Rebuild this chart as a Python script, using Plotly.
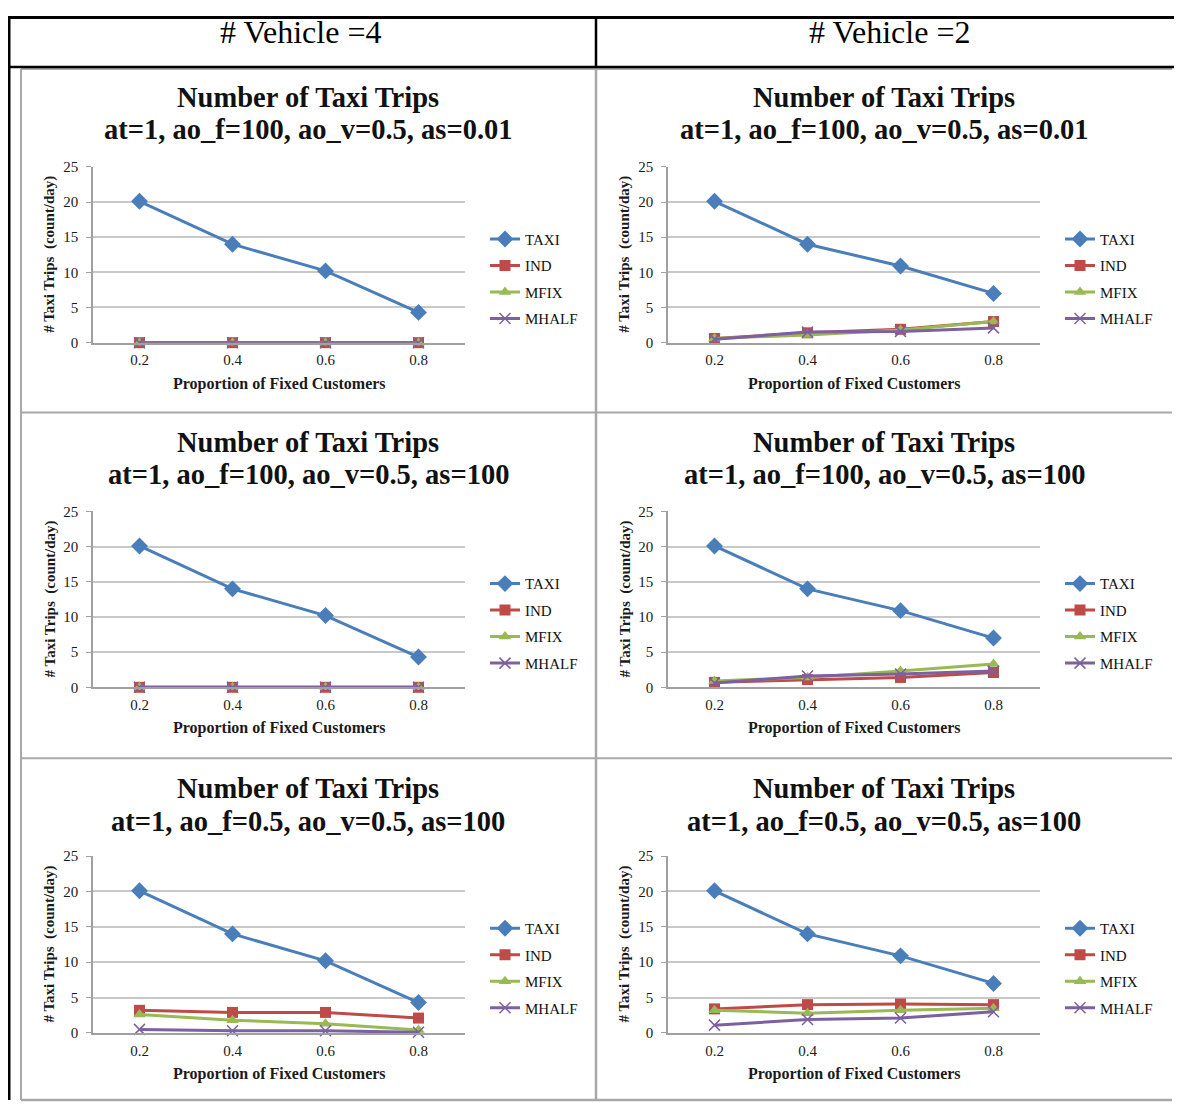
import plotly.graph_objects as go

# Page body has an 8px default margin: size the figure so the page fits the window
OFF = 8
W, H = 1182 - 2 * OFF, 1117 - 2 * OFF
# measured vertical placement of the rendered figure in the photographed page
Y0, YS = 14.0, 0.9865

categories = ["0.2", "0.4", "0.6", "0.8"]
series_names = ["TAXI", "IND", "MFIX", "MHALF"]
y_ticks = [0, 5, 10, 15, 20, 25]

# Vehicle = 4 (left column)
v4_as001_taxi = [20.1, 14.0, 10.2, 4.3]
v4_as001_ind = [0.0, 0.0, 0.0, 0.0]
v4_as001_mfix = [0.0, 0.0, 0.0, 0.0]
v4_as001_mhalf = [0.0, 0.0, 0.0, 0.0]

v4_as100_taxi = [20.1, 14.0, 10.2, 4.3]
v4_as100_ind = [0.0, 0.0, 0.0, 0.0]
v4_as100_mfix = [0.0, 0.0, 0.0, 0.0]
v4_as100_mhalf = [0.0, 0.0, 0.0, 0.0]

v4_aof05_taxi = [20.1, 14.0, 10.2, 4.3]
v4_aof05_ind = [3.2, 2.9, 2.9, 2.1]
v4_aof05_mfix = [2.6, 1.8, 1.3, 0.4]
v4_aof05_mhalf = [0.5, 0.3, 0.3, 0.1]

# Vehicle = 2 (right column)
v2_as001_taxi = [20.1, 14.0, 10.9, 7.0]
v2_as001_ind = [0.6, 1.4, 1.9, 3.0]
v2_as001_mfix = [0.6, 1.1, 1.8, 3.0]
v2_as001_mhalf = [0.5, 1.5, 1.6, 2.1]

v2_as100_taxi = [20.1, 14.0, 10.9, 7.0]
v2_as100_ind = [0.7, 1.1, 1.4, 2.1]
v2_as100_mfix = [0.9, 1.4, 2.3, 3.3]
v2_as100_mhalf = [0.6, 1.6, 1.9, 2.3]

v2_aof05_taxi = [20.1, 14.0, 10.9, 7.0]
v2_aof05_ind = [3.4, 4.0, 4.1, 4.0]
v2_aof05_mfix = [3.2, 2.8, 3.2, 3.5]
v2_aof05_mhalf = [1.1, 1.9, 2.1, 3.0]

titles = [
    "at=1, ao_f=100, ao_v=0.5, as=0.01",
    "at=1, ao_f=100, ao_v=0.5, as=100",
    "at=1, ao_f=0.5, ao_v=0.5, as=100",
]
headers = ["# Vehicle =4", "# Vehicle =2"]
main_title = "Number of Taxi Trips"
x_title = "Proportion of Fixed Customers"
y_title = "# Taxi Trips  (count/day)"

panels = [
    (0, 0, [v4_as001_taxi, v4_as001_ind, v4_as001_mfix, v4_as001_mhalf]),
    (0, 1, [v2_as001_taxi, v2_as001_ind, v2_as001_mfix, v2_as001_mhalf]),
    (1, 0, [v4_as100_taxi, v4_as100_ind, v4_as100_mfix, v4_as100_mhalf]),
    (1, 1, [v2_as100_taxi, v2_as100_ind, v2_as100_mfix, v2_as100_mhalf]),
    (2, 0, [v4_aof05_taxi, v4_aof05_ind, v4_aof05_mfix, v4_aof05_mhalf]),
    (2, 1, [v2_aof05_taxi, v2_aof05_ind, v2_aof05_mfix, v2_aof05_mhalf]),
]

colors = ["#4A7EBB", "#BE4B48", "#98B954", "#7D60A0"]
symbols = ["diamond", "square", "triangle-up", "x-thin-open"]
msizes = [13, 11, 11, 11]

FONT = "Liberation Serif, Times New Roman, serif"

def px(x):
    return min(max(x - OFF, 0), W) / W

def py(y):
    yf = (y - Y0) / YS
    yf = min(max(yf, 1.5), H - 1)
    return 1 - yf / H

plot_x = [(93, 465), (668, 1040)]
plot_y = [(165, 341), (510, 686), (855, 1032)]
col_center = [308, 884]
title1_y = [96, 441, 787]
title2_y = [128, 473, 820]

fig = go.Figure()
layout = dict(
    width=W, height=H,
    margin=dict(l=0, r=0, t=0, b=0),
    paper_bgcolor="white", plot_bgcolor="white",
    font=dict(family=FONT, color="#000000"),
    showlegend=True,
)
annotations = []
shapes = []

for i, (r, c, data) in enumerate(panels):
    n = i + 1
    xa = "xaxis" if n == 1 else f"xaxis{n}"
    ya = "yaxis" if n == 1 else f"yaxis{n}"
    xr = "x" if n == 1 else f"x{n}"
    yr = "y" if n == 1 else f"y{n}"
    lg = "legend" if n == 1 else f"legend{n}"
    x0, x1 = plot_x[c]
    y0, y1 = plot_y[r]
    layout[xa] = dict(
        domain=[px(x0), px(x1)], anchor=yr, type="category",
        range=[-0.5, 3.5], showgrid=False, showline=True,
        linecolor="#A0A0A0", linewidth=1.5, ticks="", zeroline=False,
        tickfont=dict(family=FONT, size=15, color="#1a1a1a"),
        ticklabelstandoff=3,
        fixedrange=True,
    )
    layout[ya] = dict(
        domain=[py(y1), py(y0)], anchor=xr, range=[0, 25],
        tickvals=y_ticks, showgrid=True, gridcolor="#C8C8C8", gridwidth=1.5,
        showline=True, linecolor="#A0A0A0", linewidth=1.5,
        ticks="outside", ticklen=5, tickcolor="#A0A0A0", zeroline=False,
        tickfont=dict(family=FONT, size=15, color="#1a1a1a"),
        ticklabelstandoff=5,
        fixedrange=True,
    )
    layout[lg] = dict(
        x=px(x1 + 20), xanchor="left",
        y=py(277 + (y0 - 165)), yanchor="middle",
        font=dict(family=FONT, size=15, color="#111"),
        bgcolor="rgba(0,0,0,0)", traceorder="grouped", tracegroupgap=4,
        itemwidth=30,
    )
    for k, name in enumerate(series_names):
        fig.add_trace(go.Scatter(
            x=categories, y=data[k], name=name, mode="lines+markers",
            xaxis=xr, yaxis=yr, legend=lg, legendgroup=f"{n}-{k}",
            cliponaxis=False,
            line=dict(color=colors[k], width=3),
            marker=dict(symbol=symbols[k], size=msizes[k], color=colors[k],
                        line=dict(color=colors[k], width=1.5 if k == 3 else 0)),
        ))
    annotations.append(dict(
        text=f"<b>{main_title}</b>",
        x=px(col_center[c]), y=py(title1_y[r]), xref="paper", yref="paper",
        xanchor="center", yanchor="middle", showarrow=False,
        font=dict(family=FONT, size=28.5, color="#111"),
    ))
    annotations.append(dict(
        text=f"<b>{titles[r]}</b>",
        x=px(col_center[c]), y=py(title2_y[r]), xref="paper", yref="paper",
        xanchor="center", yanchor="middle", showarrow=False,
        font=dict(family=FONT, size=28.5, color="#111"),
    ))
    annotations.append(dict(
        text=f"<b>{x_title}</b>", x=px((x0 + x1) / 2), y=py(y1 + 41),
        xref="paper", yref="paper", xanchor="center", yanchor="middle",
        showarrow=False, font=dict(family=FONT, size=16, color="#1a1a1a"),
    ))
    annotations.append(dict(
        text=f"<b>{y_title}</b>", x=px(x0 - 43), y=py((y0 + y1) / 2),
        xref="paper", yref="paper", xanchor="center", yanchor="middle",
        textangle=-90, showarrow=False,
        font=dict(family=FONT, size=15, color="#1a1a1a"),
    ))

for c, htxt in enumerate(headers):
    annotations.append(dict(
        text=htxt, x=px([300, 889][c]), y=py(30), xref="paper", yref="paper",
        xanchor="center", yanchor="middle", showarrow=False,
        font=dict(family=FONT, size=32, color="#000"),
    ))

def line(xa, ya, xb, yb, color, width):
    shapes.append(dict(type="line", xref="paper", yref="paper",
                       x0=px(xa), y0=py(ya), x1=px(xb), y1=py(yb),
                       line=dict(color=color, width=width), layer="below"))

gray = "#A8A8A8"
line(21, 67, 1172, 67, gray, 2)
line(21, 411, 1172, 411, gray, 2)
line(21, 757, 1172, 757, gray, 2)
line(21, 1102, 1172, 1102, gray, 2.5)
line(21, 67, 21, 1102, gray, 2)
line(596, 67, 596, 1102, gray, 2.5)
line(6, 9, 1182, 9, "#000", 3)
line(6, 65, 1182, 65, "#000", 2.5)
line(9, 9, 9, 1117, "#000", 3)
line(596, 9, 596, 65, "#000", 2.5)

layout["annotations"] = annotations
layout["shapes"] = shapes
fig.update_layout(**layout)
fig.write_html("out.html")
